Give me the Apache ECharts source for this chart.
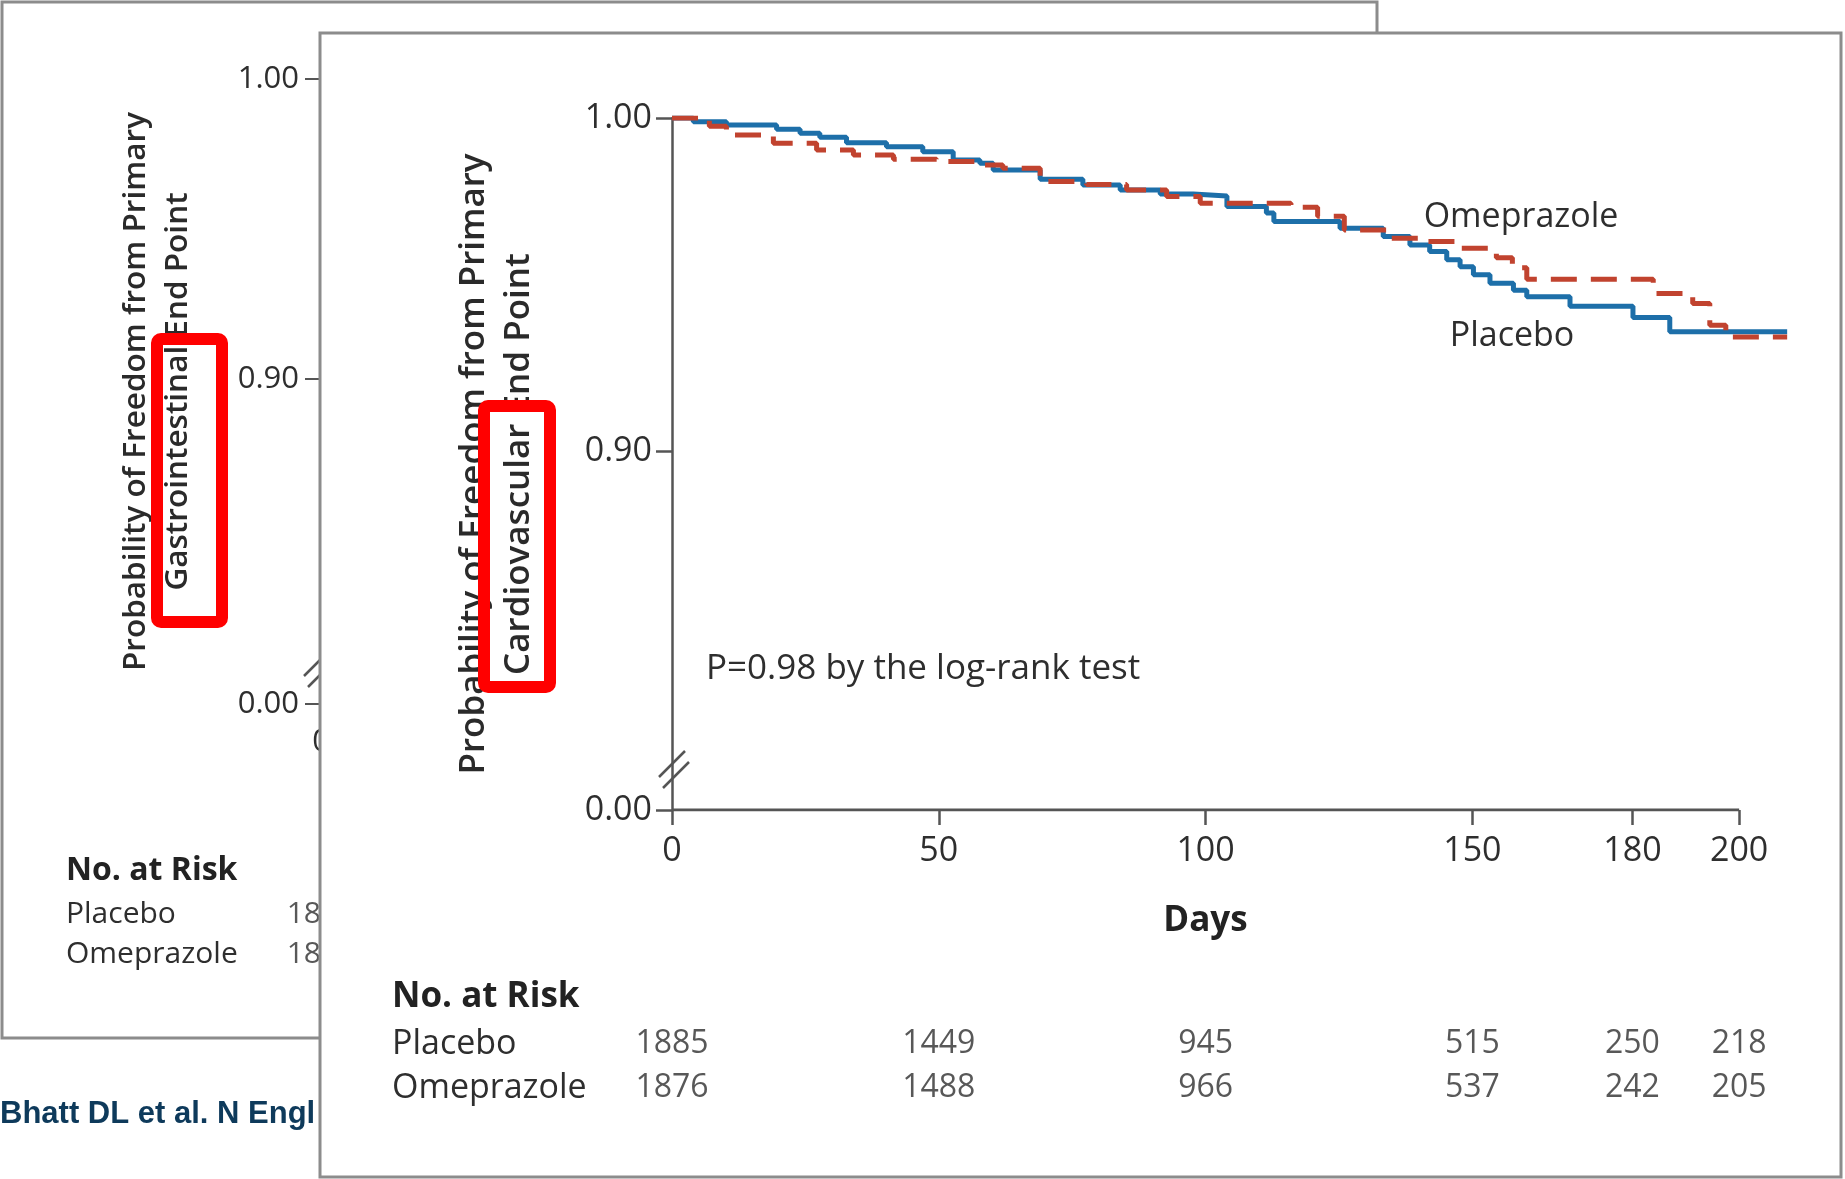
<!DOCTYPE html>
<html lang="en">
<head>
<meta charset="UTF-8">
<title>Omeprazole vs placebo - cardiovascular end point</title>
<style>
  html, body { margin: 0; padding: 0; background: #fff; }
  #chart { width: 1845px; height: 1179px; }
</style>
</head>
<body>
<div id="chart"></div>
<script src="https://cdn.jsdelivr.net/npm/echarts@6/dist/echarts.min.js"></script>
<script>
// Kaplan-Meier steps: [day, probability]
var placebo = [
  [0, 1.0], [4, 0.9989], [10.2, 0.9979], [19.6, 0.9966], [24, 0.9954], [27.7, 0.9942],
  [32.7, 0.9926], [40.2, 0.9914], [47, 0.9899], [52.7, 0.9874], [57.7, 0.9864], [60.2, 0.9844],
  [69, 0.9816], [77, 0.9799], [84, 0.9784], [91.5, 0.9772], [97.7, 0.9766], [104, 0.9734],
  [111.4, 0.9715], [112.8, 0.9689], [125.2, 0.9669], [133.3, 0.9644], [138.3, 0.9619],
  [142, 0.9599], [145.2, 0.9574], [147.7, 0.9553], [150.2, 0.9529], [153.3, 0.9504],
  [157.7, 0.9483], [160.2, 0.9463], [168.3, 0.9435], [180.1, 0.9401], [187, 0.9358], [209, 0.9358]
];
var omeprazole = [
  [0, 1.0], [7, 0.9975], [10.2, 0.9949], [19, 0.9924], [27.1, 0.9904], [34, 0.9889],
  [41.5, 0.9876], [49.6, 0.9869], [57, 0.9859], [62, 0.9849], [69, 0.9809], [77.7, 0.9800],
  [85.2, 0.9784], [92.7, 0.9764], [99, 0.9744], [116, 0.9732], [121, 0.9705], [126, 0.9664],
  [134, 0.9639], [141.4, 0.9629], [147.7, 0.9609], [154.5, 0.9580], [157.5, 0.9550],
  [160.2, 0.9516], [183.9, 0.9473], [191.3, 0.9443], [194.5, 0.9378], [197.5, 0.9342], [209, 0.9342]
];
var dayTicks = [0, 50, 100, 150, 180, 200];
var probTicks = [0, 0.90, 1.00];
var riskRows = ['Placebo', 'Omeprazole'];
var riskDays = [0, 50, 100, 150, 180, 200];
var riskPlacebo = [1885, 1449, 945, 515, 250, 218];
var riskOmeprazole = [1876, 1488, 966, 537, 242, 205];
// the figure behind only shows its first column
var backRiskPlacebo = [1885];
var backRiskOmeprazole = [1876];

var FONT = '"Open Sans", "DejaVu Sans", sans-serif';
var INK = '#2e2e2e';
var AXIS = '#555';
var BLUE = '#1d6fa9';
var RED = '#c1432f';
// the y axes are broken: 0.00 sits where this value would be
var FRONT_MIN = 0.7922;
var BACK_MIN = 0.7917;
// the curves run a little past the last tick
var DAY_END = 210;
var DAY_LAST = dayTicks[dayTicks.length - 1];

function brokenTicks(min) {
  return probTicks.map(function (v) { return v === 0 ? min : v; });
}
function probLabel(v) {
  return (v < 0.8 ? 0 : v).toFixed(2);
}
function riskData(days, counts, row) {
  return counts.map(function (n, i) { return [days[i], row, n]; });
}
function riskSeries(axisIdx, data, size, zlevel) {
  return {
    type: 'scatter',
    xAxisIndex: axisIdx,
    yAxisIndex: axisIdx,
    zlevel: zlevel,
    z: 5,
    symbolSize: 1,
    itemStyle: { color: 'rgba(0,0,0,0)' },
    silent: true,
    label: {
      show: true,
      position: 'inside',
      formatter: function (p) { return p.value[2]; },
      fontFamily: FONT,
      fontSize: size,
      color: INK
    },
    data: data
  };
}
function breakMark(x, y, zlevel) {
  return [
    { type: 'line', zlevel: zlevel, z: 20, shape: { x1: x, y1: y + 26, x2: x + 26, y2: y }, style: { stroke: AXIS, lineWidth: 2.5 } },
    { type: 'line', zlevel: zlevel, z: 20, shape: { x1: x + 4, y1: y + 37, x2: x + 30, y2: y + 11 }, style: { stroke: AXIS, lineWidth: 2.5 } }
  ];
}

var chart = echarts.init(document.getElementById('chart'));

var option = {
  backgroundColor: '#fff',
  animation: false,
  textStyle: { fontFamily: FONT },
  grid: [
    { left: 321, top: 79, width: 960, bottom: 475, zlevel: 0 },     // figure behind
    { left: 321, top: 894, width: 960, height: 80, zlevel: 0 },     // its risk table
    { left: 672, top: 118, right: 52.5, bottom: 369, zlevel: 1 },   // front figure, out to day 210
    { left: 672, top: 1022, right: 52.5, height: 88, zlevel: 1 }    // front risk table
  ],
  xAxis: [
    {
      gridIndex: 0, type: 'value', min: 0, max: 200, zlevel: 0, z: 3,
      axisLine: { lineStyle: { color: AXIS, width: 2.5 } },
      axisTick: { customValues: dayTicks, length: 13, lineStyle: { color: AXIS, width: 2 } },
      axisLabel: { customValues: dayTicks, fontSize: 31, margin: 23, color: INK },
      splitLine: { show: false }
    },
    { gridIndex: 1, type: 'value', min: 0, max: 200, show: false },
    {
      gridIndex: 2, type: 'value', min: 0, max: DAY_END, zlevel: 1, z: 3,
      axisLine: { show: false },
      axisTick: { show: true, customValues: dayTicks, length: 15, lineStyle: { color: AXIS, width: 2.5 } },
      axisLabel: { customValues: dayTicks, fontSize: 34, margin: 24, color: INK },
      splitLine: { show: false },
      name: 'Days',
      nameLocation: 'middle',
      nameGap: 94,
      // centre the title under 0-200, not under the whole 0-210 grid
      nameTextStyle: { fontSize: 35, fontWeight: 'bold', color: '#222', padding: [0, 53.5, 0, 0] }
    },
    { gridIndex: 3, type: 'value', min: 0, max: DAY_END, show: false }
  ],
  yAxis: [
    {
      gridIndex: 0, type: 'value', min: BACK_MIN, max: 1, zlevel: 0, z: 3,
      axisLine: { show: true, lineStyle: { color: AXIS, width: 2.5 } },
      axisTick: { show: true, customValues: brokenTicks(BACK_MIN), length: 16, lineStyle: { color: AXIS, width: 2 } },
      axisLabel: { customValues: brokenTicks(BACK_MIN), formatter: probLabel, fontSize: 31, margin: 22, color: INK },
      splitLine: { show: false },
      name: 'Probability of Freedom from Primary\nGastrointestinal End Point',
      nameLocation: 'middle',
      nameRotate: 90,
      nameGap: 122,
      nameTextStyle: { fontSize: 31.5, fontWeight: 600, lineHeight: 42, color: '#2a2a2a' }
    },
    {
      gridIndex: 1, type: 'category', data: riskRows, inverse: true, zlevel: 0, z: 3,
      axisLine: { show: false }, axisTick: { show: false },
      axisLabel: { interval: 0, align: 'left', margin: 255, fontSize: 30, color: INK }
    },
    {
      gridIndex: 2, type: 'value', min: FRONT_MIN, max: 1, zlevel: 1, z: 3,
      axisLine: { show: true, lineStyle: { color: AXIS, width: 2.5 } },
      axisTick: { show: true, customValues: brokenTicks(FRONT_MIN), length: 16, lineStyle: { color: AXIS, width: 2.5 } },
      axisLabel: { customValues: brokenTicks(FRONT_MIN), formatter: probLabel, fontSize: 34, margin: 20, color: INK },
      splitLine: { show: false },
      name: 'Probability of Freedom from Primary\nCardiovascular End Point',
      nameLocation: 'middle',
      nameRotate: 90,
      nameGap: 130,
      nameTextStyle: { fontSize: 35, fontWeight: 600, lineHeight: 45, color: '#2a2a2a' }
    },
    {
      gridIndex: 3, type: 'category', data: riskRows, inverse: true, zlevel: 1, z: 3,
      axisLine: { show: false }, axisTick: { show: false },
      axisLabel: { interval: 0, align: 'left', margin: 280, fontSize: 34, color: INK }
    }
  ],
  series: [
    riskSeries(1, riskData(riskDays, backRiskPlacebo, 'Placebo').concat(
      riskData(riskDays, backRiskOmeprazole, 'Omeprazole')), 30, 0),
    {
      // day axis line, stopping at the last tick
      type: 'line',
      xAxisIndex: 2,
      yAxisIndex: 2,
      zlevel: 1,
      z: 4,
      showSymbol: false,
      silent: true,
      lineStyle: { color: AXIS, width: 3 },
      data: [[0, FRONT_MIN], [DAY_LAST, FRONT_MIN]]
    },
    {
      name: 'Placebo',
      type: 'line',
      step: 'end',
      xAxisIndex: 2,
      yAxisIndex: 2,
      zlevel: 1,
      z: 5,
      showSymbol: false,
      silent: true,
      lineStyle: { color: BLUE, width: 5 },
      data: placebo,
      markLine: {
        silent: true,
        symbol: 'none',
        label: { show: false },
        lineStyle: { color: AXIS, width: 2, type: 'solid' },
        data: [{ xAxis: 180 }]
      }
    },
    {
      name: 'Omeprazole',
      type: 'line',
      step: 'end',
      xAxisIndex: 2,
      yAxisIndex: 2,
      zlevel: 1,
      z: 6,
      showSymbol: false,
      silent: true,
      lineStyle: { color: RED, width: 5, type: [26, 14] },
      data: omeprazole
    },
    riskSeries(3, riskData(riskDays, riskPlacebo, 'Placebo').concat(
      riskData(riskDays, riskOmeprazole, 'Omeprazole')), 32, 1)
  ],
  graphic: [
    // figure behind
    { type: 'rect', zlevel: 0, z: 0, shape: { x: 2, y: 2, width: 1375, height: 1036 },
      style: { fill: '#fff', stroke: '#8c8c8c', lineWidth: 3 } },
    { type: 'text', zlevel: 0, z: 10, x: 66, y: 871,
      style: { text: 'No. at Risk', fontFamily: FONT, fontSize: 32, fontWeight: 'bold', fill: '#222', verticalAlign: 'middle' } },
    { type: 'text', zlevel: 0, z: 10, x: 0, y: 1114,
      style: { text: 'Bhatt DL et al. N Engl J Med 2010;363:1909-17.', fontFamily: '"Liberation Sans", Arial, sans-serif',
        fontSize: 31, fontWeight: 'bold', fill: '#0e3a5b', verticalAlign: 'middle' } },
    { type: 'rect', zlevel: 0, z: 10, shape: { x: 157, y: 339, width: 65, height: 283, r: 4 },
      style: { fill: 'none', stroke: '#ff0000', lineWidth: 12 } }
  ].concat(breakMark(304, 650, 0)).concat([
    // front figure
    { type: 'rect', zlevel: 1, z: 0, shape: { x: 320, y: 33, width: 1521, height: 1144 },
      style: { fill: '#fff', stroke: '#8c8c8c', lineWidth: 3 } },
    { type: 'text', zlevel: 1, z: 10, x: 392, y: 997,
      style: { text: 'No. at Risk', fontFamily: FONT, fontSize: 35, fontWeight: 'bold', fill: '#222', verticalAlign: 'middle' } },
    { type: 'text', zlevel: 1, z: 10, x: 706, y: 669,
      style: { text: 'P=0.98 by the log-rank test', fontFamily: FONT, fontSize: 35, fill: INK, verticalAlign: 'middle' } },
    { type: 'text', zlevel: 1, z: 10, x: 1521, y: 217,
      style: { text: 'Omeprazole', fontFamily: FONT, fontSize: 34, fill: INK, align: 'center', verticalAlign: 'middle' } },
    { type: 'text', zlevel: 1, z: 10, x: 1512, y: 336,
      style: { text: 'Placebo', fontFamily: FONT, fontSize: 34, fill: INK, align: 'center', verticalAlign: 'middle' } },
    { type: 'rect', zlevel: 1, z: 10, shape: { x: 484, y: 406, width: 66, height: 281, r: 4 },
      style: { fill: 'none', stroke: '#ff0000', lineWidth: 12 } }
  ]).concat(breakMark(659, 751, 1))
};

chart.setOption(option);
</script>
</body>
</html>
